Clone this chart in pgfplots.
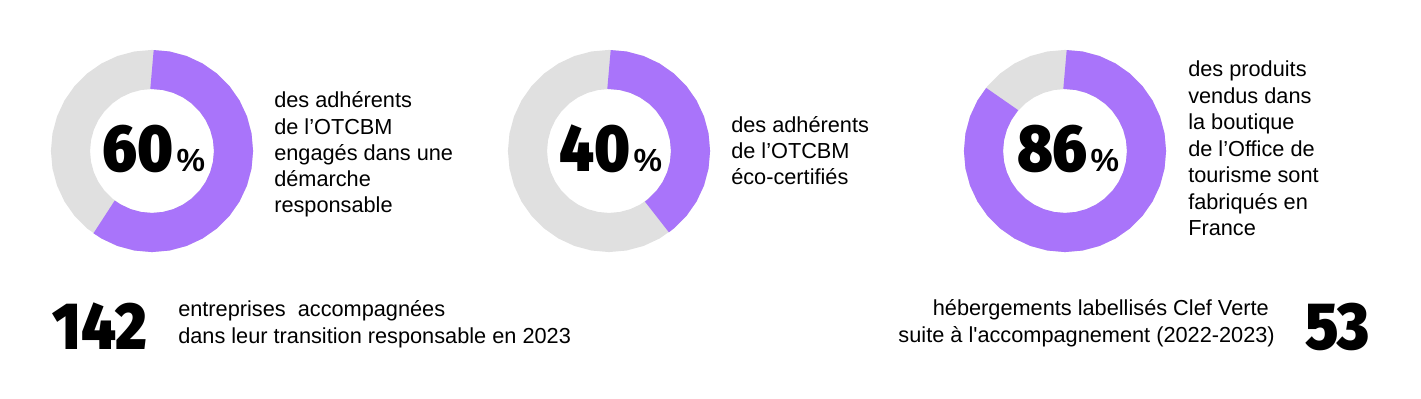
\documentclass[border=0pt]{standalone}
\usepackage{fontspec}
\setmainfont{Liberation Sans}[Ligatures=TeXOff]
\IfFontExistsTF{Fira Sans Black}{\newfontfamily\heavy{Fira Sans Black}[FakeStretch=0.9]}{%
  \IfFontExistsTF{Fira Sans Heavy}{\newfontfamily\heavy{Fira Sans Heavy}[FakeStretch=0.9]}{%
    \newfontfamily\heavy{Fira Sans}[UprightFont=*, BoldFont=* Bold]}}
\usepackage{pgfplots}
\pgfplotsset{compat=1.18}
\usepgfplotslibrary{polar}
\definecolor{purp}{HTML}{A974FA}
\definecolor{greyc}{HTML}{E0E0E0}
\newcommand\bodyfont{\fontsize{16.3pt}{19.5pt}\selectfont}
\newcommand\bigfont{\heavy\fontsize{50pt}{50pt}\selectfont}
\newcommand\pctfont{\fontsize{24pt}{24pt}\selectfont\bfseries}
\newcommand\tline[3]{\node[anchor=base west, inner sep=0pt, font=\bodyfont] at (#1,#2) {#3};}
\newcommand\rline[3]{\node[anchor=base east, inner sep=0pt, font=\bodyfont] at (#1,#2) {#3};}
\pgfplotsset{donut/.style={hide axis, scale only axis, width=151.5pt, height=151.5pt,
  ymin=0, ymax=101, xmin=-360, xmax=360, clip=false, anchor=center}}
\begin{document}
\begin{tikzpicture}
\path[use as bounding box] (0,0) rectangle (1065.75pt,299.25pt);
% donut 1: 60%
\begin{polaraxis}[donut, at={(114pt,186pt)}]
\addplot[no markers, draw=greyc, line width=29.25pt, line cap=butt] coordinates {(0,81.5) (10,81.5) (20,81.5) (30,81.5) (40,81.5) (50,81.5) (60,81.5) (70,81.5) (80,81.5) (90,81.5) (100,81.5) (110,81.5) (120,81.5) (130,81.5) (140,81.5) (150,81.5) (160,81.5) (170,81.5) (180,81.5) (190,81.5) (200,81.5) (210,81.5) (220,81.5) (230,81.5) (240,81.5) (250,81.5) (260,81.5) (270,81.5) (280,81.5) (290,81.5) (300,81.5) (310,81.5) (320,81.5) (330,81.5) (340,81.5) (350,81.5) (360,81.5) (370,81.5)};
\addplot[no markers, draw=purp, line width=29.25pt, line cap=butt] coordinates {(90,81.5) (80,81.5) (70,81.5) (60,81.5) (50,81.5) (40,81.5) (30,81.5) (20,81.5) (10,81.5) (0,81.5) (-10,81.5) (-20,81.5) (-30,81.5) (-40,81.5) (-50,81.5) (-60,81.5) (-70,81.5) (-80,81.5) (-90,81.5) (-100,81.5) (-110,81.5) (-120,81.5) (-126,81.5)};
\end{polaraxis}
% donut 2: 40%
\begin{polaraxis}[donut, at={(456.75pt,186pt)}]
\addplot[no markers, draw=greyc, line width=29.25pt, line cap=butt] coordinates {(0,81.5) (10,81.5) (20,81.5) (30,81.5) (40,81.5) (50,81.5) (60,81.5) (70,81.5) (80,81.5) (90,81.5) (100,81.5) (110,81.5) (120,81.5) (130,81.5) (140,81.5) (150,81.5) (160,81.5) (170,81.5) (180,81.5) (190,81.5) (200,81.5) (210,81.5) (220,81.5) (230,81.5) (240,81.5) (250,81.5) (260,81.5) (270,81.5) (280,81.5) (290,81.5) (300,81.5) (310,81.5) (320,81.5) (330,81.5) (340,81.5) (350,81.5) (360,81.5) (370,81.5)};
\addplot[no markers, draw=purp, line width=29.25pt, line cap=butt] coordinates {(90,81.5) (80,81.5) (70,81.5) (60,81.5) (50,81.5) (40,81.5) (30,81.5) (20,81.5) (10,81.5) (0,81.5) (-10,81.5) (-20,81.5) (-30,81.5) (-40,81.5) (-50,81.5) (-54,81.5)};
\end{polaraxis}
% donut 3: 86%
\begin{polaraxis}[donut, at={(798.75pt,186pt)}]
\addplot[no markers, draw=greyc, line width=29.25pt, line cap=butt] coordinates {(0,81.5) (10,81.5) (20,81.5) (30,81.5) (40,81.5) (50,81.5) (60,81.5) (70,81.5) (80,81.5) (90,81.5) (100,81.5) (110,81.5) (120,81.5) (130,81.5) (140,81.5) (150,81.5) (160,81.5) (170,81.5) (180,81.5) (190,81.5) (200,81.5) (210,81.5) (220,81.5) (230,81.5) (240,81.5) (250,81.5) (260,81.5) (270,81.5) (280,81.5) (290,81.5) (300,81.5) (310,81.5) (320,81.5) (330,81.5) (340,81.5) (350,81.5) (360,81.5) (370,81.5)};
\addplot[no markers, draw=purp, line width=29.25pt, line cap=butt] coordinates {(90,81.5) (80,81.5) (70,81.5) (60,81.5) (50,81.5) (40,81.5) (30,81.5) (20,81.5) (10,81.5) (0,81.5) (-10,81.5) (-20,81.5) (-30,81.5) (-40,81.5) (-50,81.5) (-60,81.5) (-70,81.5) (-80,81.5) (-90,81.5) (-100,81.5) (-110,81.5) (-120,81.5) (-130,81.5) (-140,81.5) (-150,81.5) (-160,81.5) (-170,81.5) (-180,81.5) (-190,81.5) (-200,81.5) (-210,81.5) (-219.6,81.5)};
\end{polaraxis}
\begin{scope}[x=0.75pt, y=-0.75pt, yshift=299.25pt]
% big percentages
\node[anchor=base, inner sep=0pt] at (154,172) {{\bigfont 60}\hspace{2pt}{\pctfont\%}};
\node[anchor=base, inner sep=0pt] at (611,172) {{\bigfont 40}\hspace{2pt}{\pctfont\%}};
\node[anchor=base, inner sep=0pt] at (1068,172) {{\bigfont 86}\hspace{2pt}{\pctfont\%}};
% donut 1 text
\tline{274}{108}{des adhérents}
\tline{274}{134.25}{de l’OTCBM}
\tline{274}{160.5}{engagés dans une}
\tline{274}{186.75}{démarche}
\tline{274}{213}{responsable}
% donut 2 text
\tline{731}{133}{des adhérents}
\tline{731}{159}{de l’OTCBM}
\tline{731}{185}{éco-certifiés}
% donut 3 text
\tline{1188}{77}{des produits}
\tline{1188}{103.5}{vendus dans}
\tline{1188}{130}{la boutique}
\tline{1188}{156.5}{de l’Office de}
\tline{1188}{183}{tourisme sont}
\tline{1188}{209.5}{fabriqués en}
\tline{1188}{236}{France}
% bottom left
\node[anchor=base west, inner sep=0pt, font=\bigfont] at (52,350) {142};
\tline{178}{317}{entreprises\ \ accompagnées}
\tline{178}{344}{dans leur transition responsable en 2023}
% bottom right
\rline{1269}{316}{hébergements labellisés Clef Verte}
\rline{1275}{343}{suite à l'accompagnement (2022-2023)}
\node[anchor=base east, inner sep=0pt, font=\bigfont] at (1370,350) {53};
\end{scope}
\end{tikzpicture}
\end{document}
